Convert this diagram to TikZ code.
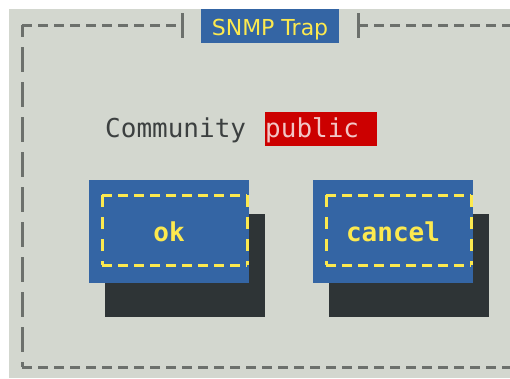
\documentclass[tikz,border=0pt]{standalone}
\usepackage{fontspec}
\setmainfont{DejaVu Sans}
\setmonofont{DejaVu Sans Mono}
\usepackage{tikz}
\definecolor{dlgback}{HTML}{D3D7CF}
\definecolor{dlgframe}{HTML}{6C706C}
\definecolor{dlgblue}{HTML}{3465A4}
\definecolor{dlgyellow}{HTML}{FCE94F}
\definecolor{dlgshadow}{HTML}{2E3436}
\definecolor{dlgtext}{HTML}{3C4040}
\definecolor{dlgred}{HTML}{CC0000}
\definecolor{dlgpink}{HTML}{F2C6C6}
\tikzset{
	framehor/.style={line width=3pt, color=dlgframe, dash pattern=on 10pt off 6pt},
	framever/.style={line width=3pt, color=dlgframe, dash pattern=on 25pt off 10pt, dash phase=13pt},
	focushor/.style={line width=3pt, color=dlgyellow, dash pattern=on 10pt off 6pt},
	focusver/.style={line width=3pt, color=dlgyellow, dash pattern=on 12pt off 10pt},
	monotext/.style={inner sep=0pt, font=\ttfamily\fontsize{26}{26}\selectfont},
	btntext/.style={monotext, font=\ttfamily\bfseries\fontsize{26}{26}\selectfont, color=dlgyellow, anchor=base}
}
\begin{document}
\begin{tikzpicture}[x=1pt, y=-1pt]
		%%%%% START %%%%%
		\useasboundingbox (0, 0) rectangle (510, 378);
		
		\fill[dlgback] (9, 9) rectangle (510, 378);
		
		% dialog frame
		\draw[framever] (22, 25) -- (22, 367);
		\draw[framehor] (22, 25) -- (182, 25);
		\draw[framehor] (358, 25) -- (516, 25);
		\draw[framehor] (22, 367) -- (516, 367);
		\draw[line width=3pt, color=dlgframe] (182, 13) -- (182, 38);
		\draw[line width=3pt, color=dlgframe] (358, 13) -- (358, 38);
		
		% title
		\fill[dlgblue] (201, 9) rectangle (339, 43);
		\node[inner sep=0pt, anchor=base, color=dlgyellow, font=\fontsize{22}{22}\selectfont] (title) at (270, 35) {SNMP Trap};
		
		% community field
		\node[monotext, anchor=base west, color=dlgtext] (community) at (105, 137) {Community};
		\fill[dlgred] (265, 112) rectangle (377, 146);
		\node[monotext, anchor=base west, color=dlgpink] (public) at (265, 137) {public};
		
		% ok button
		\fill[dlgshadow] (105, 214) rectangle (265, 317);
		\fill[dlgblue] (89, 180) rectangle (249, 283);
		\draw[focushor] (102, 195) -- (247, 195);
		\draw[focushor] (102, 265) -- (247, 265);
		\draw[focusver] (102, 195) -- (102, 265);
		\draw[focusver] (247, 195) -- (247, 265);
		\node[btntext] (ok) at (169, 241) {ok};
		
		% cancel button
		\fill[dlgshadow] (329, 214) rectangle (489, 317);
		\fill[dlgblue] (313, 180) rectangle (473, 283);
		\draw[focushor] (326, 195) -- (471, 195);
		\draw[focushor] (326, 265) -- (471, 265);
		\draw[focusver] (326, 195) -- (326, 265);
		\draw[focusver] (471, 195) -- (471, 265);
		\node[btntext] (cancel) at (393, 241) {cancel};
		
		%%%%% END %%%%%
	\end{tikzpicture}
\end{document}
